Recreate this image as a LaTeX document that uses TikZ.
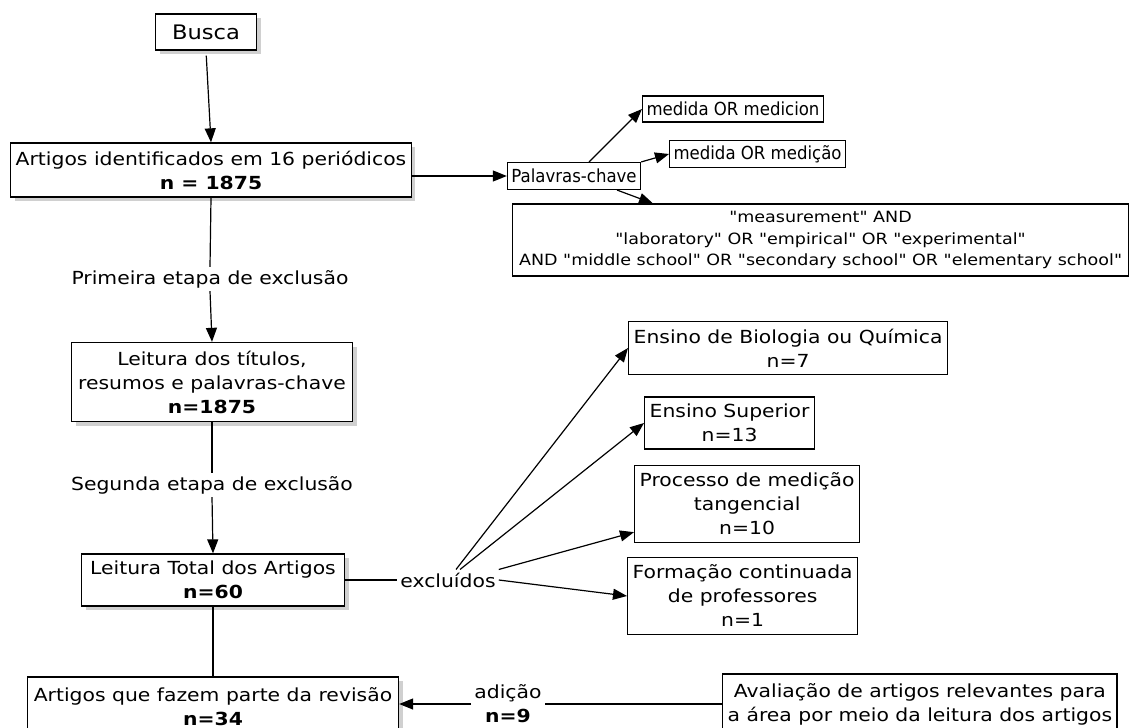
\documentclass[tikz,border=0pt]{standalone}
\usepackage{fontspec}
\setmainfont{DejaVu Sans}[FakeStretch=1.13]
\newfontfamily\kwfont{DejaVu Sans}[FakeStretch=0.92]
\newfontfamily\termfont{DejaVu Sans}[FakeStretch=1.13, Ligatures=TeXOff]
\definecolor{shadowgray}{RGB}{208,208,208}
\usetikzlibrary{arrows.meta,positioning,calc,shadows}

\begin{document}
\begin{tikzpicture}[x=1pt,y=-1pt,
    box/.style={draw, line width=1.3pt, fill=white, align=center,
        inner xsep=5pt, inner ysep=0pt, font=\fontsize{18}{24}\selectfont},
    shadowed/.style={box, drop shadow={shadow xshift=4pt, shadow yshift=-4pt,
        fill=shadowgray, opacity=1}},
    kwbox/.style={draw, line width=1.1pt, fill=white, align=center,
        inner xsep=4pt, inner ysep=0pt},
    lbl/.style={inner sep=3pt, align=center, font=\fontsize{18}{24}\selectfont},
    arr/.style={line width=1.2pt, -{Triangle[length=14pt,width=11pt]}},
    ln/.style={line width=1.2pt}]
    \useasboundingbox (0,0) rectangle (1130,728);

    \node[shadowed, minimum width=101pt, minimum height=36pt,
          font=\fontsize{20}{24}\selectfont] (busca) at (206,32) {Busca};
    \node[shadowed, minimum height=54pt] (ident) at (211,170)
        {Artigos identificados em 16 periódicos\\\textbf{n = 1875}};

    \node[kwbox, minimum height=27pt, font=\kwfont\fontsize{18}{20}\selectfont]
        (chave) at (574,176) {Palavras-chave};
    \node[kwbox, anchor=west, minimum height=26pt, font=\kwfont\fontsize{18}{20}\selectfont]
        (medicion) at (642,109) {medida OR medicion};
    \node[kwbox, anchor=west, minimum height=27pt, font=\kwfont\fontsize{18}{20}\selectfont]
        (medicao) at (669,154) {medida OR medição};
    \node[kwbox, anchor=west, minimum width=616pt, minimum height=72pt,
          font=\termfont\fontsize{15.5}{21.5}\selectfont] (termos) at (512,240)
        {"measurement" AND\\"laboratory" OR "empirical" OR "experimental"\\AND "middle school" OR "secondary school" OR "elementary school"};

    \node[lbl] (etapa1) at (210,279) {Primeira etapa de exclusão};
    \node[shadowed, minimum width=281pt, minimum height=79pt] (titulos) at (212,382)
        {Leitura dos títulos,\\resumos e palavras-chave\\\textbf{n=1875}};
    \node[lbl] (etapa2) at (212,485) {Segunda etapa de exclusão};
    \node[shadowed, minimum width=263pt, minimum height=52pt] (total) at (213,580)
        {Leitura Total dos Artigos\\\textbf{n=60}};

    \node[lbl] (excl) at (448,580) {excluídos};
    \node[box, anchor=west, minimum height=53pt] (bio) at (628,348)
        {Ensino de Biologia ou Química\\n=7};
    \node[box, anchor=west, minimum height=52pt] (sup) at (644,423)
        {Ensino Superior\\n=13};
    \node[box, anchor=west, minimum height=77pt] (proc) at (634,504)
        {Processo de medição\\tangencial\\n=10};
    \node[box, anchor=west, minimum height=77pt] (form) at (627,596)
        {Formação continuada\\de professores\\n=1};

    \node[shadowed, minimum width=371pt, minimum height=60pt] (revisao) at (213,707)
        {Artigos que fazem parte da revisão\\\textbf{n=34}};
    \node[lbl] (adicao) at (508,704) {adição\\\textbf{n=9}};
    \node[box, anchor=west, minimum height=60pt] (avalia) at (722,704)
        {Avaliação de artigos relevantes para\\a área por meio da leitura dos artigos};

    \draw[arr, shorten <=5pt] (busca.south) -- (ident.north);
    \draw[arr] (ident.east |- chave.west) -- (chave.west);
    \draw[arr] ([xshift=15pt]chave.north) -- (medicion.west);
    \draw[arr] (chave.north east) -- (medicao.west);
    \draw[arr] ([xshift=43pt]chave.south) -- ($(termos.north west)+(141,0)$);

    \draw[ln] (ident.south) -- (etapa1.north);
    \draw[arr] (etapa1.south) -- (titulos.north);
    \draw[ln] (titulos.south) -- (etapa2.north);
    \draw[arr] (etapa2.south) -- (total.north);

    \draw[ln] (total.east) -- (excl.west);
    \draw[arr] ([xshift=8pt]excl.north) -- (bio.west);
    \draw[arr] ([xshift=12pt]excl.north) -- (sup.west);
    \draw[arr] (excl.north east) -- ($(proc.south west)+(0,-11)$);
    \draw[arr] (excl.east) -- (form.west);

    \draw[ln] (total.south) -- (revisao.north);
    \draw[ln] (avalia.west) -- (adicao.east);
    \draw[arr] (adicao.west) -- (adicao.west -| revisao.east);
\end{tikzpicture}
\end{document}
